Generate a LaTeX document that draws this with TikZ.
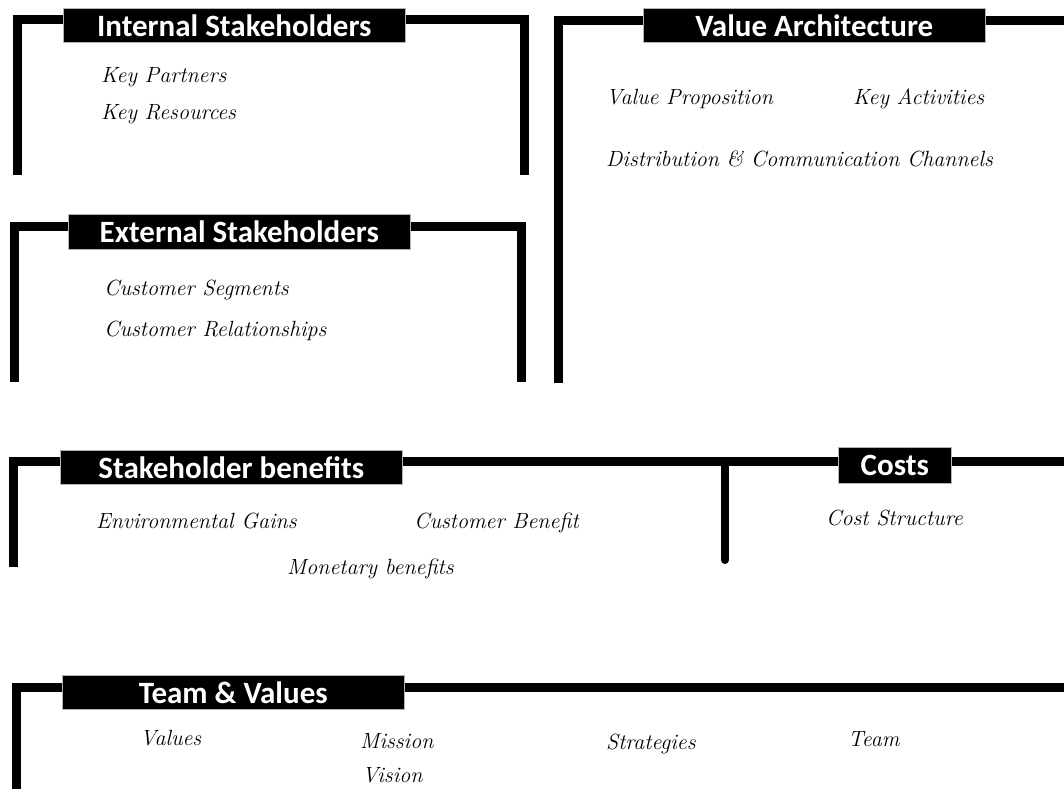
\documentclass[tikz,border=0pt]{standalone}
\usepackage{fontspec}
\setmainfont{Latin Modern Roman}
\newfontfamily\titlefont{Carlito}[BoldFont={* Bold}]
\begin{document}
\begin{tikzpicture}[x=1pt,y=-1pt,
  frame/.style={line width=9pt,line cap=butt,line join=miter},
  ttl/.style={fill=black,draw=gray!60,line width=0.6pt,text=white,font=\titlefont\bfseries\fontsize{31}{31}\selectfont,inner sep=0pt,anchor=north west},
  item/.style={anchor=base west,inner sep=0pt,font=\itshape\fontsize{22}{22}\selectfont}]
\useasboundingbox[fill=white] (0,0) rectangle (1064,789);
% Internal Stakeholders
\draw[frame] (17,175) -- (17,19.5) -- (524,19.5) -- (524,175);
\node[ttl,minimum width=342pt,minimum height=34pt] (t1) at (63,8) {Internal Stakeholders};
\node[item] (kp) at (101,83) {Key Partners};
\node[item] (kr) at (101,120) {Key Resources};
% Value Architecture
\draw[frame] (558,383) -- (558,20.5) -- (1064,20.5);
\node[ttl,minimum width=342pt,minimum height=34pt] (t2) at (643,8) {Value Architecture};
\node[item] (vp) at (606,105) {Value Proposition};
\node[item] (ka) at (853,105) {Key Activities};
\node[item] (dc) at (606,166) {Distribution \& Communication Channels};
% External Stakeholders
\draw[frame] (14,382) -- (14,226.5) -- (521,226.5) -- (521,382);
\node[ttl,minimum width=342pt,minimum height=35pt] (t3) at (68,214) {External Stakeholders};
\node[item] (cs) at (104,295) {Customer Segments};
\node[item] (cr) at (104,336) {Customer Relationships};
% Stakeholder benefits / Costs
\draw[frame] (13,567) -- (13,461.5) -- (1064,461.5);
\coordinate (divtop) at (725,461.5);
\coordinate (divbot) at (725,560);
\draw[line width=8pt,line cap=round] (divtop) -- (divbot);
\node[ttl,minimum width=342pt,minimum height=34pt] (t4) at (60,450) {Stakeholder benefits};
\node[ttl,minimum width=113pt,minimum height=36pt] (t5) at (838,447) {Costs};
\node[item] (eg) at (96,528) {Environmental Gains};
\node[item] (cb) at (414,528) {Customer Benefit};
\node[item] (mb) at (287,574) {Monetary benefits};
\node[item] (cst) at (826,525) {Cost Structure};
% Team & Values
\draw[frame] (16,789) -- (16,687.5) -- (1064,687.5);
\node[ttl,minimum width=342pt,minimum height=34pt] (t6) at (62,675) {Team \& Values};
\node[item] (va) at (140,745) {Values};
\node[item] (mi) at (360,748) {Mission};
\node[item] (vi) at (362,782) {Vision};
\node[item] (st) at (606,749) {Strategies};
\node[item] (te) at (848,746) {Team};
\end{tikzpicture}
\end{document}
